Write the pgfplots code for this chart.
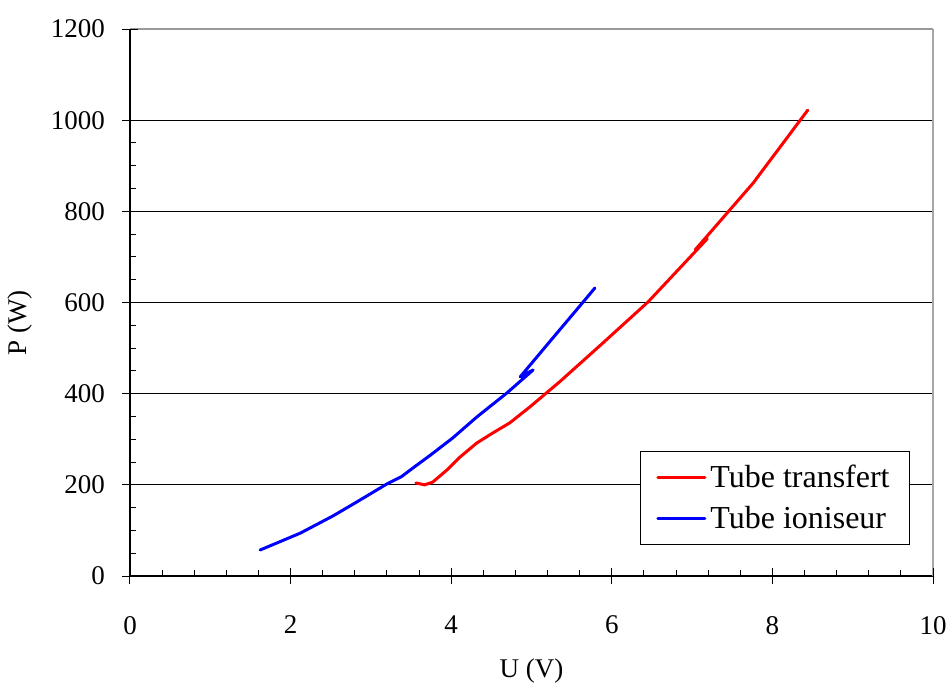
\documentclass[border=0pt]{standalone}
\usepackage{fontspec}
\setmainfont{Liberation Serif}
\usepackage{pgfplots}
\pgfplotsset{compat=1.18}
\begin{document}
\begin{tikzpicture}
\useasboundingbox (-65pt,-55.5pt) rectangle (408.5pt,288pt);
\begin{axis}[
  scale only axis, width=401.5pt, height=273.5pt,
  xmin=0, xmax=10, ymin=0, ymax=1200,
  axis lines*=left,
  axis line style={black, line width=0.6pt},
  xtick={0,2,...,10}, ytick={0,200,...,1000},
  extra y ticks={1200}, extra y tick labels={1200},
  extra y tick style={major grid style={gray!80, line width=0.8pt}},
  extra x ticks={10}, extra x tick labels={},
  extra x tick style={xmajorgrids=true, major grid style={gray!70, line width=0.6pt}},
  ymajorgrids, major grid style={black, line width=0.5pt},
  minor x tick num=4, minor y tick num=3,
  tick align=center,
  major tick length=8pt, minor tick length=3pt,
  every tick/.style={black, line width=0.5pt},
  every minor x tick/.append style={yshift=1.5pt},
  every minor y tick/.append style={xshift=1.5pt},
  /pgf/number format/assume math mode=true,
  scaled ticks=false,
  /pgf/number format/1000 sep={},
  tick label style={font=\fontsize{13.5}{15}\selectfont},
  xticklabel style={yshift=-12.5pt},
  yticklabel style={xshift=-5pt},
  xlabel={U (V)}, ylabel={P (W)},
  label style={font=\fontsize{13.5}{15}\selectfont},
  xlabel style={at={(axis description cs:0.5,0)}, anchor=center, yshift=-47.5pt},
  ylabel style={at={(axis description cs:-0.137,0.463)}, anchor=center},
  legend style={at={(0.635,0.2285)}, anchor=north west, draw=black, line width=0.5pt,
    font=\fontsize{16}{18}\selectfont, inner xsep=8pt, inner ysep=4.5pt,
    row sep=4pt},
  legend cell align=left,
  legend image code/.code={\draw[#1, line width=1.5pt] (0pt,0pt) -- (23.5pt,0pt);},
]
\addplot[red, line width=1.5pt, line join=round, line cap=round] coordinates {
(3.56,204) (3.67,200) (3.77,206) (3.95,233) (4.11,261) (4.32,292) (4.52,314) (4.73,336)
(4.98,371) (5.35,426) (5.85,505) (6.45,601) (7.19,740) (7.04,716) (7.76,862) (8.44,1022)
};
\addlegendentry{Tube transfert}
\addplot[blue, line width=1.5pt, line join=round, line cap=round] coordinates {
(1.62,57) (2.12,94) (2.53,132) (2.82,162) (3.20,202) (3.38,218) (3.57,243) (3.74,265)
(4.02,303) (4.32,349) (4.69,401) (5.02,452) (4.86,437) (5.26,521) (5.60,592) (5.79,632)
};
\addlegendentry{Tube ioniseur}
\end{axis}
\end{tikzpicture}
\end{document}
